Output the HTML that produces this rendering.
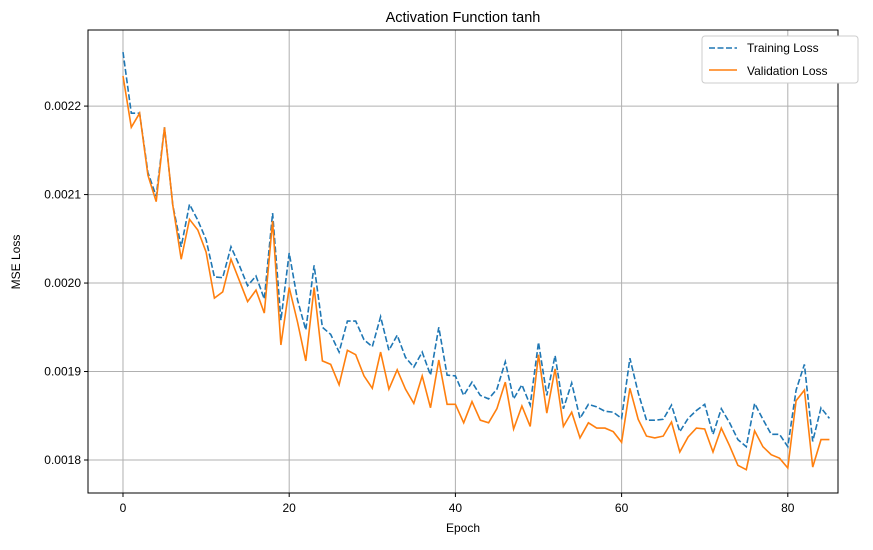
<!DOCTYPE html>
<html><head><meta charset="utf-8"><style>
body{margin:0;background:#fff;font-family:"Liberation Sans","DejaVu Sans",sans-serif}
svg text{font-family:"Liberation Sans","DejaVu Sans",sans-serif;fill:#000}
</style></head><body>
<svg id="c" width="873" height="545"></svg>
<script>
const epochs=[];for(let i=0;i<86;i++)epochs.push(i);
const trainLoss=[0.002261,0.002192,0.002192,0.002125,0.002098,0.002176,0.002088,0.002041,0.002089,0.002071,0.002049,0.002007,0.002006,0.002041,0.002020,0.001997,0.002008,0.001982,0.002079,0.001958,0.002034,0.001981,0.001947,0.002020,0.001950,0.001942,0.001922,0.001957,0.001957,0.001936,0.001928,0.001962,0.001924,0.001941,0.001916,0.001905,0.001922,0.001896,0.001950,0.001896,0.001895,0.001873,0.001888,0.001873,0.001869,0.001880,0.001911,0.001869,0.001885,0.001862,0.001933,0.001873,0.001918,0.001858,0.001887,0.001847,0.001863,0.001860,0.001855,0.001854,0.001847,0.001915,0.001876,0.001845,0.001845,0.001846,0.001862,0.001832,0.001847,0.001856,0.001863,0.001829,0.001858,0.001842,0.001823,0.001815,0.001864,0.001846,0.001829,0.001829,0.001815,0.001879,0.001908,0.001821,0.001859,0.001847];
const valLoss=[0.002234,0.002176,0.002192,0.002122,0.002092,0.002176,0.002088,0.002027,0.002072,0.002060,0.002035,0.001983,0.001990,0.002027,0.002003,0.001979,0.001992,0.001966,0.002070,0.001930,0.001995,0.001956,0.001912,0.001995,0.001912,0.001908,0.001885,0.001924,0.001919,0.001895,0.001881,0.001922,0.001880,0.001902,0.001880,0.001864,0.001895,0.001859,0.001913,0.001863,0.001863,0.001842,0.001866,0.001845,0.001842,0.001858,0.001888,0.001835,0.001861,0.001838,0.001919,0.001853,0.001903,0.001838,0.001854,0.001825,0.001842,0.001836,0.001836,0.001832,0.001820,0.001881,0.001846,0.001827,0.001825,0.001827,0.001843,0.001809,0.001826,0.001836,0.001835,0.001809,0.001836,0.001816,0.001794,0.001789,0.001833,0.001815,0.001806,0.001802,0.001791,0.001867,0.001879,0.001792,0.001823,0.001823];
const xTicks=[0,20,40,60,80];
const yTicks=[0.0018,0.0019,0.0020,0.0021,0.0022];
const yTickLabels=["0.0018","0.0019","0.0020","0.0021","0.0022"];

const L=88,R=838,T=30,B=493;
const xMin=-4.21,xMax=86.04,yMin=0.0017627,yMax=0.002286;
const X=v=>L+(v-xMin)/(xMax-xMin)*(R-L);
const Y=v=>B-(v-yMin)/(yMax-yMin)*(B-T);
const svg=document.getElementById('c');const NS='http://www.w3.org/2000/svg';
function mk(tag,attrs,parent){const e=document.createElementNS(NS,tag);for(const k in attrs)e.setAttribute(k,attrs[k]);(parent||svg).appendChild(e);return e;}
let g;
xTicks.forEach(t=>{g=mk('line',{x1:X(t),x2:X(t),y1:T,y2:B,stroke:'#b0b0b0','stroke-width':1});

g=mk('line',{x1:X(t),x2:X(t),y1:B,y2:B+4,stroke:'#000'});

g=mk('text',{x:X(t),y:B+19,'text-anchor':'middle','font-size':12});g.textContent=t;
});
yTicks.forEach((t,i)=>{g=mk('line',{x1:L,x2:R,y1:Y(t),y2:Y(t),stroke:'#b0b0b0','stroke-width':1});

g=mk('line',{x1:L-4,x2:L,y1:Y(t),y2:Y(t),stroke:'#000'});

g=mk('text',{x:L-7,y:Y(t)+4,'text-anchor':'end','font-size':12});g.textContent=yTickLabels[i];
});
function line(vals,color,dash,name){const d=vals.map((v,i)=>(i?'L':'M')+X(epochs[i]).toFixed(1)+','+Y(v).toFixed(1)).join('');
const p=mk('path',{d:d,fill:'none',stroke:color,'stroke-width':1.6});if(dash)p.setAttribute('stroke-dasharray',dash);
}
line(trainLoss,'#1f77b4','6,2.5','training-loss-line');
line(valLoss,'#ff7f0e',null,'validation-loss-line');
g=mk('rect',{x:L,y:T,width:R-L,height:B-T,fill:'none',stroke:'#000','stroke-width':1});

g=mk('text',{x:463,y:22,'text-anchor':'middle','font-size':14.5});g.textContent='Activation Function tanh';

g=mk('text',{x:463,y:532,'text-anchor':'middle','font-size':12});g.textContent='Epoch';

g=mk('text',{x:20,y:262,'text-anchor':'middle','font-size':12,transform:'rotate(-90 20 262)'});g.textContent='MSE Loss';

g=mk('rect',{x:702,y:36,width:156,height:47,rx:3,fill:'#fff',stroke:'#ccc'});

g=mk('line',{x1:709,x2:737,y1:48,y2:48,stroke:'#1f77b4','stroke-width':1.6,'stroke-dasharray':'6,2.5'});

g=mk('text',{x:747,y:52,'font-size':12});g.textContent='Training Loss';

g=mk('line',{x1:709,x2:737,y1:70,y2:70,stroke:'#ff7f0e','stroke-width':1.6});

g=mk('text',{x:747,y:75,'font-size':12});g.textContent='Validation Loss';

</script>
</body></html>
